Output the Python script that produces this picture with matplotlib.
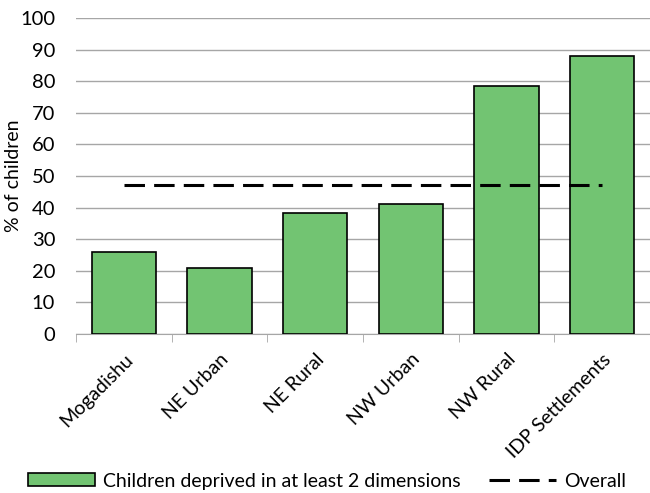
import matplotlib
matplotlib.use("Agg")
import matplotlib.pyplot as plt
import numpy as np

plt.rcParams['font.family'] = ['Lato', 'DejaVu Sans']

regions = ["Mogadishu", "NE Urban", "NE Rural", "NW Urban", "NW Rural", "IDP Settlements"]
deprived = [26.0, 20.8, 38.2, 41.1, 78.6, 88.1]
overall = [47.2, 47.2, 47.2, 47.2, 47.2, 47.2]

fig = plt.figure(figsize=(6.5, 4.93), dpi=100)
ax = fig.add_axes([0.117, 0.3225, 0.883, 0.641])

x = np.arange(len(regions))
bars = ax.bar(x, deprived, width=0.67, color="#72c472", edgecolor="black", linewidth=1.2,
              label="Children deprived in at least 2 dimensions", zorder=3)
line, = ax.plot(x, overall, color="black", linestyle=(0, (6.7, 3)), linewidth=2.2,
                label="Overall", zorder=4)

ax.set_xlim(-0.5, len(regions) - 0.5)
ax.set_ylim(0, 100)
ax.set_yticks(range(0, 101, 10))
ax.grid(axis='y', color="#a6a6a6", linewidth=1, zorder=0)
for s in ["top", "right", "left"]:
    ax.spines[s].set_visible(False)
ax.spines["bottom"].set_color("#a6a6a6")
ax.tick_params(axis='y', length=0, labelsize=14.5, pad=15)
ax.set_xticks(x)
ax.set_xticklabels(regions, rotation=45, ha="right", rotation_mode="anchor", fontsize=14)
ax.tick_params(axis='x', which='major', length=0, pad=12)
ax.set_xticks(np.arange(-0.5, len(regions), 1), minor=True)
ax.tick_params(axis='x', which='minor', length=6, color="#a6a6a6", direction="out")
ax.set_ylabel("% of children", fontsize=14)
ax.yaxis.set_label_coords(-0.094, 0.5)

fig.legend([bars, line], [bars.get_label(), line.get_label()],
           loc="center", bbox_to_anchor=(0.503, 0.024), ncol=2, frameon=False,
           fontsize=14, handlelength=3.45, handleheight=0.65, columnspacing=1.5,
           handletextpad=0.4)

fig.savefig("out.png", dpi=100)
